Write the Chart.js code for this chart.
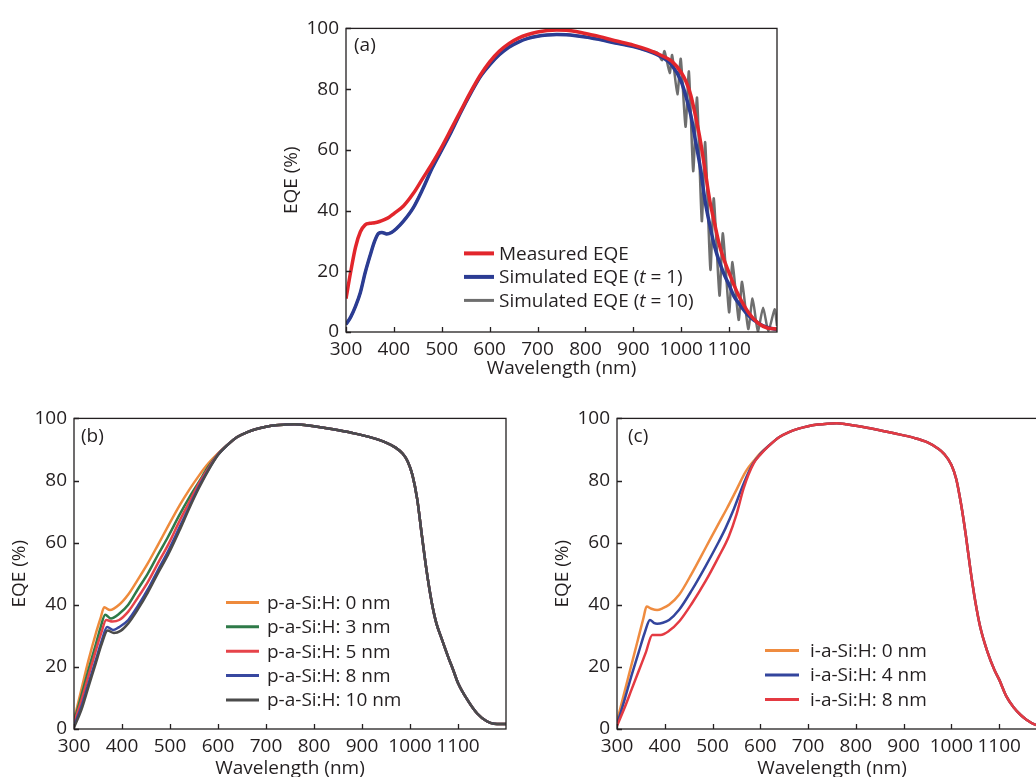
<!DOCTYPE html>
<html>
<head>
<meta charset="utf-8">
<script src="https://cdn.jsdelivr.net/npm/chart.js@4.4.1/dist/chart.umd.min.js"></script>
<style>
html, body { margin: 0; padding: 0; background: #fff; }
body { width: 1036px; height: 777px; overflow: hidden; position: relative; }
.panel { position: absolute; }
</style>
</head>
<body>
<div class="panel" style="left:270px;top:10px"><canvas id="chartA" width="520" height="380"></canvas></div>
<div class="panel" style="left:0px;top:400px"><canvas id="chartB" width="520" height="390"></canvas></div>
<div class="panel" style="left:540px;top:400px"><canvas id="chartC" width="520" height="390"></canvas></div>
<script>
// axis ticks
var wlTicks = [300, 400, 500, 600, 700, 800, 900, 1000, 1100];
var eqeTicks = [0, 20, 40, 60, 80, 100];

// (a) measured vs simulated EQE, [wavelength nm, EQE %]
var aMeasured = [[300,11],[310,20],[320,28],[330,33],[340,35.3],[350,35.8],[360,36],[370,36.4],[380,37],[390,37.8],
  [400,39],[420,41.5],[440,45.5],[460,50.5],[480,55.5],[500,61],[520,67],[540,73],[560,79],[580,84.5],[600,89],
  [620,92.5],[640,95],[660,96.8],[680,98],[700,98.8],[720,99.3],[740,99.5],[760,99.4],[780,99],[800,98.3],
  [830,97.3],[860,96],[900,94.5],[930,93],[960,91],[980,89.2],[1000,85.5],[1010,82.5],[1020,78],[1030,71],
  [1040,63],[1050,53],[1060,43],[1070,35.5],[1080,28.5],[1090,23.5],[1100,19.5],[1110,15.5],[1120,12],
  [1140,6.5],[1160,3],[1180,1.3],[1200,1]];
var aSimT1 = [[300,2.5],[310,5],[320,8.5],[330,13],[340,19.5],[350,25],[360,30],[368,32.5],[375,32.8],[385,32.3],
  [395,32.8],[405,34],[420,36.5],[440,40.8],[460,47],[480,54],[500,60],[520,66],[540,72.5],[560,78.5],[580,84],
  [600,88],[620,91.3],[640,93.8],[660,95.5],[680,96.7],[700,97.4],[720,97.8],[740,98],[760,97.9],[780,97.6],
  [800,97.2],[830,96.3],[860,95.3],[900,94],[930,92.6],[960,90.5],[980,88],[1000,82.5],[1010,77.5],[1020,71.4],
  [1030,62.8],[1040,54],[1050,43],[1060,35],[1070,28],[1080,23],[1090,18.8],[1100,15.5],[1110,11.8],[1120,9.5],
  [1140,5.5],[1160,3],[1180,1.5],[1200,0.8]];
// t = 10: follows t = 1 up to ~940 nm, then interference fringes
var aSimT10Fringes = [[950,92],[960,89.5],[965,92.5],[976,85.3],[981,91.2],[992,78.3],[999,90],[1009,67.6],
  [1016,85.8],[1025,53],[1033,77.2],[1043,36.5],[1050,62.5],[1061,20.5],[1068,44],[1080,12],[1087,32.5],
  [1100,6.5],[1107,23],[1120,4],[1127,16.5],[1140,1],[1149,11],[1160,0.3],[1171,8],[1182,0.3],[1195,7.5],[1200,2]];
var aLabels = ['Measured EQE', 'Simulated EQE (*t* = 1)', 'Simulated EQE (*t* = 10)'];

// (b) p-a-Si:H thickness, blue side up to 600 nm
var b0nm = [[300,3],[315,12.5],[330,22],[345,30.5],[355,35.5],[363,39.2],[375,38.3],[394,40],[413,43.3],[433,48.1],
  [454,53.4],[475,59.3],[496,65.3],[520,72],[540,77],[560,81.5],[580,85.5],[600,88.7]];
var b3nm = [[300,2.5],[315,10.5],[330,19],[345,27],[355,32.5],[365,36.8],[377,35.6],[394,37.1],[413,40],[433,45],
  [454,50.1],[475,56.1],[496,61.9],[520,69],[540,74.5],[560,79.5],[580,84.5],[600,88.5]];
var b5nm = [[300,2],[315,9],[330,17],[345,25],[357,31],[367,35.1],[380,34.6],[394,35.1],[413,37.8],[433,42.3],
  [454,47.4],[475,53.4],[496,59.3],[520,67],[540,73],[560,79],[580,84],[600,88.5]];
var b8nm = [[300,1],[315,7],[330,14.5],[345,22],[358,28.5],[369,32.8],[382,31.9],[394,32.8],[413,35.1],[433,39.6],
  [454,45],[475,51.2],[496,57.2],[520,65],[540,71.5],[560,78],[580,83.5],[600,88.3]];
var b10nm = [[300,0.5],[315,6],[330,13.5],[345,21],[358,27.5],[370,31.7],[383,30.9],[397,31.6],[413,34],[433,38.5],
  [454,44],[475,50.2],[496,56.1],[520,64],[540,71],[560,77.5],[580,83.3],[600,88.2]];
// shared red side beyond 600 nm
var bCommon = [[620,91.5],[640,94],[660,95.5],[680,96.6],[700,97.3],[720,97.8],[740,98],[760,98.1],[780,97.9],
  [800,97.5],[840,96.5],[880,95.3],[920,93.8],[950,92.2],[970,90.6],[985,88.6],[995,86.2],[1005,81.8],[1015,74],
  [1025,62],[1035,50.5],[1045,41],[1055,34],[1065,29.5],[1080,23],[1090,19],[1100,14.8],[1120,9.3],
  [1140,5],[1160,2.5],[1175,1.7],[1190,1.6],[1200,1.6]];
var bLabels = ['p-a-Si:H: 0 nm', 'p-a-Si:H: 3 nm', 'p-a-Si:H: 5 nm', 'p-a-Si:H: 8 nm', 'p-a-Si:H: 10 nm'];

// (c) i-a-Si:H thickness
var c0nm = [[300,2.5],[315,11.5],[330,20.5],[345,29.5],[355,35.5],[362,39.4],[372,38.7],[384,38.3],[396,38.9],
  [409,40],[430,43.2],[457,50.2],[485,58.2],[513,66.2],[530,71],[550,77],[570,83],[590,87],[600,88.8]];
var c4nm = [[300,1.5],[315,9],[330,17],[345,24.5],[358,31],[369,35.1],[377,34.2],[384,33.9],[396,34.2],[409,35.1],
  [430,38.4],[457,44.8],[485,52.3],[513,60.3],[527,64.6],[545,71],[565,79],[585,85.5],[600,88.5]];
var c8nm = [[300,1],[315,6.5],[330,12.5],[345,18.5],[360,24.5],[374,30.3],[391,30.3],[409,31.6],[430,34.6],
  [457,40.5],[485,47.5],[513,55.5],[534,62],[550,69],[565,77.5],[586,85.5],[600,88.3]];
var cCommon = [[620,91.5],[640,94],[660,95.6],[680,96.7],[700,97.5],[720,98],[740,98.3],[760,98.4],[780,98.1],
  [800,97.6],[840,96.5],[880,95.2],[920,93.8],[950,92.3],[970,90.5],[985,88.5],[1000,85],[1010,80.5],[1020,72.5],
  [1030,62.5],[1040,51],[1050,41],[1060,33],[1075,25],[1090,19],[1100,15.9],[1115,10.5],[1130,7],[1145,4.5],
  [1157,3],[1175,1.4],[1200,0.5]];
var cLabels = ['i-a-Si:H: 0 nm', 'i-a-Si:H: 4 nm', 'i-a-Si:H: 8 nm'];

var INK = '#231f20';
var FONT = '"Open Sans", "Noto Sans", sans-serif';
var FSIZE = 19;

function pts(arr) {
    return arr.map(function(p) { return { x: p[0], y: p[1] }; });
}

// frame, inward ticks, panel letter and in-plot legend
var panelDecor = {
    id: 'panelDecor',
    afterDraw: function(chart, args, o) {
        var ctx = chart.ctx, ca = chart.chartArea;
        var xs = chart.scales.x, ys = chart.scales.y;
        ctx.save();
        ctx.strokeStyle = INK;
        ctx.lineWidth = 1.3;
        ctx.strokeRect(ca.left, ca.top, ca.right - ca.left, ca.bottom - ca.top);
        ctx.beginPath();
        xs.ticks.forEach(function(t) {
            var px = Math.round(xs.getPixelForValue(t.value)) + 0.5;
            ctx.moveTo(px, ca.bottom); ctx.lineTo(px, ca.bottom - 5);
        });
        ys.ticks.forEach(function(t) {
            var py = Math.round(ys.getPixelForValue(t.value)) + 0.5;
            ctx.moveTo(ca.left, py); ctx.lineTo(ca.left + 5, py);
        });
        ctx.stroke();

        ctx.fillStyle = INK;
        ctx.textBaseline = 'middle';
        ctx.textAlign = 'left';
        ctx.font = FSIZE + 'px ' + FONT;
        ctx.fillText(o.letter, ca.left + o.letterX, ca.top + o.letterY);

        var lg = o.legend;
        chart.data.datasets.forEach(function(ds, i) {
            var y = ca.top + lg.y0 + i * lg.dy;
            ctx.strokeStyle = ds.borderColor;
            ctx.lineWidth = ds.legendWidth || ds.borderWidth;
            ctx.beginPath();
            ctx.moveTo(ca.left + lg.x0, y);
            ctx.lineTo(ca.left + lg.x1, y);
            ctx.stroke();
            var x = ca.left + lg.textX;
            ds.label.split('*').forEach(function(part, k) {
                ctx.font = (k % 2 ? 'italic ' : '') + FSIZE + 'px ' + FONT;
                ctx.fillText(part, x, y + 1);
                x += ctx.measureText(part).width;
            });
        });
        ctx.restore();
    }
};

function makePanel(id, datasets, p) {
    return new Chart(document.getElementById(id), {
        type: 'line',
        data: { datasets: datasets },
        options: {
            responsive: false,
            animation: false,
            devicePixelRatio: 1,
            layout: { autoPadding: false, padding: p.padding },
            elements: { point: { radius: 0 }, line: { cubicInterpolationMode: 'monotone' } },
            plugins: {
                legend: { display: false },
                tooltip: { enabled: false },
                panelDecor: p.decor
            },
            scales: {
                x: {
                    type: 'linear', min: 300, max: 1200,
                    grid: { display: false, drawTicks: false },
                    border: { display: false },
                    afterBuildTicks: function(s) { s.ticks = wlTicks.map(function(v) { return { value: v }; }); },
                    afterFit: function(s) { s.height = p.xHeight; },
                    ticks: {
                        autoSkip: false, maxRotation: 0, padding: 6, color: INK,
                        font: { family: FONT, size: FSIZE },
                        callback: function(v) { return String(v); }
                    },
                    title: {
                        display: true, text: 'Wavelength (nm)', color: INK,
                        font: { family: FONT, size: FSIZE }, padding: { top: 0, bottom: 10 }
                    }
                },
                y: {
                    min: 0, max: 100,
                    grid: { display: false, drawTicks: false },
                    border: { display: false },
                    afterBuildTicks: function(s) { s.ticks = eqeTicks.map(function(v) { return { value: v }; }); },
                    afterFit: function(s) { s.width = p.yWidth; },
                    ticks: {
                        padding: 7, color: INK,
                        font: { family: FONT, size: FSIZE },
                        callback: function(v) { return String(v); }
                    },
                    title: {
                        display: true, text: 'EQE (%)', color: INK,
                        font: { family: FONT, size: FSIZE }, padding: { top: p.yTitlePad, bottom: 0 }
                    }
                }
            }
        },
        plugins: [panelDecor]
    });
}

// (a)
var aT10 = aSimT1.filter(function(p) { return p[0] <= 940; }).concat(aSimT10Fringes);
makePanel('chartA', [
    { label: aLabels[0], data: pts(aMeasured), borderColor: '#e2262c', borderWidth: 3.5, legendWidth: 4 },
    { label: aLabels[1], data: pts(aSimT1), borderColor: '#2b3c93', borderWidth: 3.5, legendWidth: 4 },
    { label: aLabels[2], data: pts(aT10), borderColor: '#6e6e6e', borderWidth: 2.5, legendWidth: 3, cubicInterpolationMode: 'default', tension: 0.2 }
], {
    padding: { left: 0, top: 11, right: 13, bottom: 0 },
    xHeight: 58, yWidth: 76, yTitlePad: 10,
    decor: { letter: '(a)', letterX: 8, letterY: 17,
             legend: { x0: 118, x1: 148, textX: 153, y0: 225, dy: 23.5 } }
});

// (b)
var bSeries = [b0nm, b3nm, b5nm, b8nm, b10nm];
var bColors = ['#ee8a3c', '#2e7a48', '#e6434a', '#3848a0', '#4b4b4b'];
makePanel('chartB', bSeries.map(function(s, i) {
    return { label: bLabels[i], data: pts(s.concat(bCommon)), borderColor: bColors[i],
             borderWidth: 2.5, legendWidth: 3, order: bSeries.length - 1 - i };
}), {
    padding: { left: 0, top: 18, right: 14, bottom: 0 },
    xHeight: 61, yWidth: 74, yTitlePad: 8,
    decor: { letter: '(b)', letterX: 7, letterY: 18,
             legend: { x0: 152, x1: 185, textX: 193, y0: 184, dy: 24.4 } }
});

// (c)
var cSeries = [c0nm, c4nm, c8nm];
var cColors = ['#ef8c40', '#33459d', '#e43a42'];
makePanel('chartC', cSeries.map(function(s, i) {
    return { label: cLabels[i], data: pts(s.concat(cCommon)), borderColor: cColors[i],
             borderWidth: 2.5, legendWidth: 3, order: cSeries.length - 1 - i };
}), {
    padding: { left: 0, top: 18, right: 13, bottom: 0 },
    xHeight: 61, yWidth: 77, yTitlePad: 11,
    decor: { letter: '(c)', letterX: 11, letterY: 18,
             legend: { x0: 148, x1: 182, textX: 193, y0: 232, dy: 24.6 } }
});
</script>
</body>
</html>
